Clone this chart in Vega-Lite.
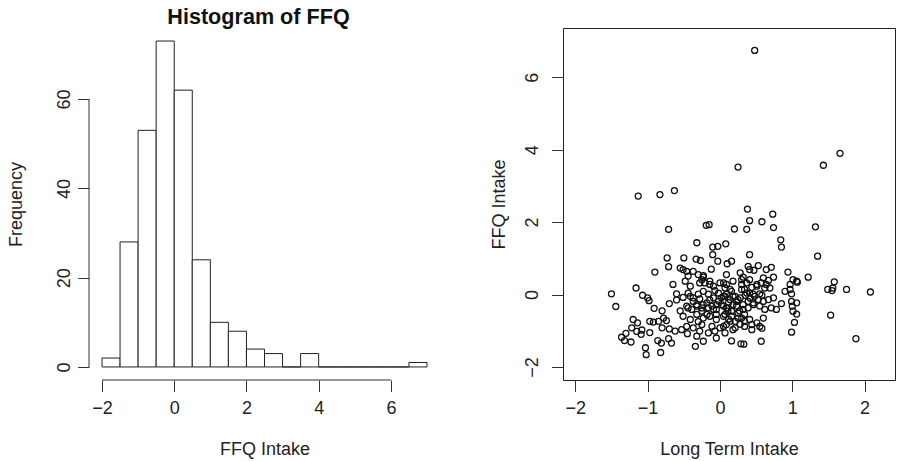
{
  "$schema": "https://vega.github.io/schema/vega-lite/v6.json",
  "background": "white",
  "padding": {"left": 7, "top": 7, "right": 5, "bottom": 5},
  "bounds": "flush",
  "spacing": 123,
  "config": {
    "font": "Liberation Sans",
    "view": {"stroke": null},
    "axis": {
      "grid": false, "domain": false, "tickColor": "#333", "tickSize": 11.5, "tickWidth": 1,
      "labelFontSize": 18, "titleFontSize": 18, "titleFontWeight": "normal",
      "labelColor": "#222", "titleColor": "#222", "labelFlush": false, "labelOverlap": false,
      "labelFont": "Liberation Sans", "titleFont": "Liberation Sans"
    },
    "axisX": {"labelPadding": 8, "titlePadding": 23},
    "axisY": {"labelAngle": -90, "labelAlign": "center", "labelBaseline": "bottom", "labelPadding": 4, "titlePadding": 30}
  },
  "datasets": {
    "hist": [
      {"bin_start": -2.0, "bin_end": -1.5, "count": 2},
      {"bin_start": -1.5, "bin_end": -1.0, "count": 28},
      {"bin_start": -1.0, "bin_end": -0.5, "count": 53},
      {"bin_start": -0.5, "bin_end": 0.0, "count": 73},
      {"bin_start": 0.0, "bin_end": 0.5, "count": 62},
      {"bin_start": 0.5, "bin_end": 1.0, "count": 24},
      {"bin_start": 1.0, "bin_end": 1.5, "count": 10},
      {"bin_start": 1.5, "bin_end": 2.0, "count": 8},
      {"bin_start": 2.0, "bin_end": 2.5, "count": 4},
      {"bin_start": 2.5, "bin_end": 3.0, "count": 3},
      {"bin_start": 3.0, "bin_end": 3.5, "count": 0},
      {"bin_start": 3.5, "bin_end": 4.0, "count": 3},
      {"bin_start": 4.0, "bin_end": 4.5, "count": 0},
      {"bin_start": 4.5, "bin_end": 5.0, "count": 0},
      {"bin_start": 5.0, "bin_end": 5.5, "count": 0},
      {"bin_start": 5.5, "bin_end": 6.0, "count": 0},
      {"bin_start": 6.0, "bin_end": 6.5, "count": 0},
      {"bin_start": 6.5, "bin_end": 7.0, "count": 1}
    ],
    "pts": [
      {"long_term": 0.48, "ffq": 6.74},
      {"long_term": 0.25, "ffq": 3.52}, {"long_term": 1.43, "ffq": 3.57}, {"long_term": 1.66, "ffq": 3.90},
      {"long_term": -1.13, "ffq": 2.72}, {"long_term": -0.83, "ffq": 2.76}, {"long_term": -0.63, "ffq": 2.87},
      {"long_term": 0.38, "ffq": 2.36}, {"long_term": 0.73, "ffq": 2.22}, {"long_term": 0.41, "ffq": 2.04}, {"long_term": 0.58, "ffq": 2.01},
      {"long_term": -0.71, "ffq": 1.80}, {"long_term": -0.19, "ffq": 1.91}, {"long_term": -0.15, "ffq": 1.93}, {"long_term": 0.20, "ffq": 1.81},
      {"long_term": 0.37, "ffq": 1.80}, {"long_term": 0.74, "ffq": 1.85}, {"long_term": 1.32, "ffq": 1.87}, {"long_term": 0.84, "ffq": 1.51},
      {"long_term": -0.32, "ffq": 1.43}, {"long_term": -0.10, "ffq": 1.31}, {"long_term": -0.03, "ffq": 1.33}, {"long_term": 0.08, "ffq": 1.40},
      {"long_term": -0.10, "ffq": 1.10}, {"long_term": 0.41, "ffq": 1.10}, {"long_term": 0.85, "ffq": 1.31}, {"long_term": 1.35, "ffq": 1.06},
      {"long_term": -0.73, "ffq": 1.01}, {"long_term": -0.50, "ffq": 1.01},
      {"long_term": -0.71, "ffq": 0.77}, {"long_term": -0.90, "ffq": 0.62}, {"long_term": -0.33, "ffq": 0.98}, {"long_term": -0.27, "ffq": 0.94},
      {"long_term": -0.03, "ffq": 0.92}, {"long_term": 0.10, "ffq": 0.85}, {"long_term": 0.16, "ffq": 0.92}, {"long_term": -0.55, "ffq": 0.73},
      {"long_term": -0.46, "ffq": 0.64}, {"long_term": -0.44, "ffq": 0.51}, {"long_term": -0.30, "ffq": 0.55}, {"long_term": 0.39, "ffq": 0.78},
      {"long_term": 0.47, "ffq": 0.67}, {"long_term": 0.71, "ffq": 0.75}, {"long_term": 0.94, "ffq": 0.62}, {"long_term": 0.53, "ffq": 0.80},
      {"long_term": 0.64, "ffq": 0.69}, {"long_term": -0.37, "ffq": 0.64}, {"long_term": -0.51, "ffq": 0.69}, {"long_term": 0.41, "ffq": 0.69},
      {"long_term": -0.23, "ffq": 0.52}, {"long_term": 0.09, "ffq": 0.55}, {"long_term": 0.28, "ffq": 0.60}, {"long_term": -0.12, "ffq": 0.70},
      {"long_term": -1.50, "ffq": 0.02}, {"long_term": -1.16, "ffq": 0.18}, {"long_term": -0.65, "ffq": 0.28}, {"long_term": -0.60, "ffq": 0.02},
      {"long_term": -0.48, "ffq": 0.37}, {"long_term": -0.23, "ffq": 0.48}, {"long_term": -0.21, "ffq": 0.32}, {"long_term": -0.28, "ffq": 0.32},
      {"long_term": -0.14, "ffq": 0.28}, {"long_term": -0.07, "ffq": 0.11}, {"long_term": 0.00, "ffq": 0.32}, {"long_term": 0.07, "ffq": 0.18},
      {"long_term": -0.02, "ffq": 0.04}, {"long_term": 0.09, "ffq": 0.01}, {"long_term": 0.32, "ffq": 0.48}, {"long_term": 0.41, "ffq": 0.41},
      {"long_term": 0.60, "ffq": 0.46}, {"long_term": 0.67, "ffq": 0.39}, {"long_term": 0.74, "ffq": 0.48}, {"long_term": 0.97, "ffq": 0.28},
      {"long_term": 1.06, "ffq": 0.37}, {"long_term": 0.30, "ffq": 0.28}, {"long_term": 0.34, "ffq": 0.14}, {"long_term": 0.44, "ffq": 0.20},
      {"long_term": 0.51, "ffq": 0.28}, {"long_term": 0.64, "ffq": 0.28}, {"long_term": 0.69, "ffq": 0.18}, {"long_term": 0.90, "ffq": 0.09},
      {"long_term": 0.97, "ffq": 0.14}, {"long_term": 0.05, "ffq": 0.32}, {"long_term": 0.16, "ffq": 0.09}, {"long_term": 0.41, "ffq": 0.04},
      {"long_term": 0.55, "ffq": 0.02}, {"long_term": 1.22, "ffq": 0.48}, {"long_term": 1.01, "ffq": 0.41}, {"long_term": 1.07, "ffq": 0.34},
      {"long_term": 1.58, "ffq": 0.35}, {"long_term": 1.49, "ffq": 0.14}, {"long_term": 1.55, "ffq": 0.11}, {"long_term": 1.56, "ffq": 0.18},
      {"long_term": 1.75, "ffq": 0.14}, {"long_term": 2.08, "ffq": 0.07}, {"long_term": 0.99, "ffq": 0.02}, {"long_term": -0.41, "ffq": 0.23},
      {"long_term": -0.25, "ffq": 0.41}, {"long_term": -0.14, "ffq": 0.37}, {"long_term": -0.09, "ffq": 0.23}, {"long_term": 0.09, "ffq": 0.28},
      {"long_term": 0.14, "ffq": 0.14}, {"long_term": 0.18, "ffq": 0.37}, {"long_term": 0.30, "ffq": 0.41}, {"long_term": 0.37, "ffq": 0.32},
      {"long_term": 0.51, "ffq": 0.23}, {"long_term": 0.57, "ffq": 0.32}, {"long_term": 0.62, "ffq": 0.18}, {"long_term": 0.30, "ffq": 0.14},
      {"long_term": 0.37, "ffq": 0.04}, {"long_term": 0.46, "ffq": 0.01}, {"long_term": -0.44, "ffq": 0.04}, {"long_term": -0.23, "ffq": 0.09},
      {"long_term": -0.16, "ffq": 0.01}, {"long_term": -0.30, "ffq": 0.01},
      {"long_term": -1.44, "ffq": -0.33}, {"long_term": -1.07, "ffq": -0.02}, {"long_term": -1.00, "ffq": -0.09}, {"long_term": -0.98, "ffq": -0.17},
      {"long_term": -0.91, "ffq": -0.38}, {"long_term": -0.51, "ffq": -0.08}, {"long_term": -0.41, "ffq": -0.05}, {"long_term": -0.37, "ffq": -0.19},
      {"long_term": -0.44, "ffq": -0.37}, {"long_term": 0.02, "ffq": -0.09}, {"long_term": -0.32, "ffq": -0.32}, {"long_term": -0.23, "ffq": -0.28},
      {"long_term": -0.16, "ffq": -0.37}, {"long_term": -0.25, "ffq": -0.46}, {"long_term": -0.09, "ffq": -0.41}, {"long_term": -0.05, "ffq": -0.28},
      {"long_term": 0.05, "ffq": -0.32}, {"long_term": 0.11, "ffq": -0.46}, {"long_term": 0.07, "ffq": -0.05}, {"long_term": 0.14, "ffq": -0.14},
      {"long_term": 0.21, "ffq": -0.05}, {"long_term": 0.11, "ffq": -0.37}, {"long_term": 0.18, "ffq": -0.28}, {"long_term": 0.23, "ffq": -0.19},
      {"long_term": 0.28, "ffq": -0.09}, {"long_term": 0.32, "ffq": -0.41}, {"long_term": 0.48, "ffq": -0.05}, {"long_term": 0.39, "ffq": -0.19},
      {"long_term": 0.46, "ffq": -0.28}, {"long_term": 0.53, "ffq": -0.14}, {"long_term": 0.60, "ffq": -0.19}, {"long_term": 0.67, "ffq": -0.14},
      {"long_term": 0.74, "ffq": -0.09}, {"long_term": 0.78, "ffq": -0.41}, {"long_term": 0.71, "ffq": -0.37}, {"long_term": 0.99, "ffq": -0.19},
      {"long_term": 1.06, "ffq": -0.23}, {"long_term": 1.01, "ffq": -0.46}, {"long_term": 1.00, "ffq": -0.32}, {"long_term": -0.37, "ffq": -0.09},
      {"long_term": -0.09, "ffq": -0.09}, {"long_term": 0.05, "ffq": -0.05}, {"long_term": 0.18, "ffq": -0.05}, {"long_term": 0.25, "ffq": -0.14},
      {"long_term": -0.46, "ffq": -0.32}, {"long_term": -0.39, "ffq": -0.41}, {"long_term": -0.32, "ffq": -0.28}, {"long_term": -0.25, "ffq": -0.37},
      {"long_term": -0.18, "ffq": -0.23}, {"long_term": -0.11, "ffq": -0.32}, {"long_term": -0.05, "ffq": -0.41}, {"long_term": 0.02, "ffq": -0.28},
      {"long_term": 0.09, "ffq": -0.37}, {"long_term": 0.16, "ffq": -0.46}, {"long_term": 0.23, "ffq": -0.32}, {"long_term": 0.32, "ffq": -0.28},
      {"long_term": 0.39, "ffq": -0.37}, {"long_term": 0.46, "ffq": -0.23}, {"long_term": 0.55, "ffq": -0.32}, {"long_term": 0.62, "ffq": -0.41},
      {"long_term": -0.60, "ffq": -0.15}, {"long_term": -0.70, "ffq": -0.25}, {"long_term": -0.55, "ffq": -0.45}, {"long_term": -0.28, "ffq": -0.12},
      {"long_term": -0.14, "ffq": -0.15}, {"long_term": -0.02, "ffq": -0.18}, {"long_term": 0.12, "ffq": -0.22}, {"long_term": 0.35, "ffq": -0.02},
      {"long_term": 0.42, "ffq": -0.10}, {"long_term": 0.58, "ffq": -0.02}, {"long_term": 0.85, "ffq": -0.25}, {"long_term": -0.80, "ffq": -0.45},
      {"long_term": 0.27, "ffq": -0.45},
      {"long_term": -1.20, "ffq": -0.69}, {"long_term": -1.14, "ffq": -0.78}, {"long_term": -1.22, "ffq": -0.92}, {"long_term": -1.08, "ffq": -0.98},
      {"long_term": -0.97, "ffq": -0.74}, {"long_term": -0.92, "ffq": -0.76}, {"long_term": -0.85, "ffq": -0.74}, {"long_term": -0.78, "ffq": -0.65},
      {"long_term": -0.74, "ffq": -0.72}, {"long_term": -0.80, "ffq": -0.92}, {"long_term": -0.53, "ffq": -0.97}, {"long_term": -0.37, "ffq": -0.92},
      {"long_term": 0.00, "ffq": -0.92}, {"long_term": -0.18, "ffq": -0.55}, {"long_term": 0.07, "ffq": -0.55}, {"long_term": 0.16, "ffq": -0.60},
      {"long_term": 0.25, "ffq": -0.51}, {"long_term": 0.30, "ffq": -0.65}, {"long_term": 0.21, "ffq": -0.74}, {"long_term": 0.05, "ffq": -0.88},
      {"long_term": 0.18, "ffq": -0.97}, {"long_term": 0.34, "ffq": -0.74}, {"long_term": 0.44, "ffq": -0.83}, {"long_term": 0.51, "ffq": -0.78},
      {"long_term": 0.55, "ffq": -0.88}, {"long_term": 1.06, "ffq": -0.54}, {"long_term": 1.03, "ffq": -0.77}, {"long_term": 1.53, "ffq": -0.57},
      {"long_term": -0.51, "ffq": -0.60}, {"long_term": -0.41, "ffq": -0.69}, {"long_term": -0.32, "ffq": -0.55}, {"long_term": -0.23, "ffq": -0.65},
      {"long_term": -0.14, "ffq": -0.60}, {"long_term": -0.05, "ffq": -0.69}, {"long_term": 0.05, "ffq": -0.60}, {"long_term": 0.14, "ffq": -0.74},
      {"long_term": 0.25, "ffq": -0.65}, {"long_term": 0.34, "ffq": -0.55}, {"long_term": 0.41, "ffq": -0.69}, {"long_term": 0.60, "ffq": -0.65},
      {"long_term": -0.46, "ffq": -0.88}, {"long_term": -0.25, "ffq": -0.83}, {"long_term": -0.11, "ffq": -0.88}, {"long_term": 0.09, "ffq": -0.83},
      {"long_term": 0.21, "ffq": -0.92}, {"long_term": 0.34, "ffq": -0.88}, {"long_term": 0.44, "ffq": -0.97},
      {"long_term": 0.58, "ffq": -0.93}, {"long_term": 0.12, "ffq": -0.68}, {"long_term": -0.30, "ffq": -0.75}, {"long_term": -0.70, "ffq": -0.95},
      {"long_term": -0.05, "ffq": -0.55}, {"long_term": 0.28, "ffq": -0.82},
      {"long_term": -1.09, "ffq": -1.10}, {"long_term": -0.97, "ffq": -1.05}, {"long_term": -1.30, "ffq": -1.07}, {"long_term": -1.36, "ffq": -1.18},
      {"long_term": -1.32, "ffq": -1.27}, {"long_term": -1.23, "ffq": -1.31}, {"long_term": -1.03, "ffq": -1.47}, {"long_term": -0.86, "ffq": -1.27},
      {"long_term": -0.81, "ffq": -1.34}, {"long_term": -0.71, "ffq": -1.22}, {"long_term": -0.67, "ffq": -1.34}, {"long_term": -0.34, "ffq": -1.43},
      {"long_term": -0.23, "ffq": -1.29}, {"long_term": -0.62, "ffq": -1.01}, {"long_term": -0.28, "ffq": -1.01}, {"long_term": -0.32, "ffq": -1.15},
      {"long_term": -0.16, "ffq": -1.06}, {"long_term": -0.07, "ffq": -1.01}, {"long_term": 0.07, "ffq": -1.06}, {"long_term": 0.99, "ffq": -1.04},
      {"long_term": 0.16, "ffq": -1.28}, {"long_term": 0.29, "ffq": -1.36}, {"long_term": 0.33, "ffq": -1.37}, {"long_term": 0.57, "ffq": -1.29},
      {"long_term": 1.88, "ffq": -1.22}, {"long_term": -1.15, "ffq": -1.02}, {"long_term": -0.45, "ffq": -1.08}, {"long_term": -0.05, "ffq": -1.20},
      {"long_term": -1.02, "ffq": -1.66}, {"long_term": -0.82, "ffq": -1.60}
    ]
  },
  "hconcat": [
    {
      "width": 351,
      "height": 352,
      "title": {"text": "Histogram of FFQ", "fontSize": 21.6, "fontWeight": "bold", "color": "#111", "font": "Liberation Sans", "baseline": "alphabetic", "offset": -18, "dx": -6},
      "layer": [
        {
          "data": {"name": "hist"},
          "mark": {"type": "rect", "fill": "white", "stroke": "#222", "strokeWidth": 1},
          "encoding": {
            "x": {"field": "bin_start", "type": "quantitative", "scale": {"domain": [-2.36, 7.36], "nice": false, "zero": false}, "axis": {"values": [-2, 0, 2, 4, 6], "title": "FFQ Intake"}},
            "x2": {"field": "bin_end"},
            "y": {"field": "count", "type": "quantitative", "scale": {"domain": [-2.92, 75.92], "nice": false, "zero": false}, "axis": {"values": [0, 20, 40, 60], "title": "Frequency"}},
            "y2": {"datum": 0}
          }
        },
        {
          "data": {"values": [{}]},
          "mark": {"type": "rule", "color": "#333", "strokeWidth": 1},
          "encoding": {"x": {"datum": -2}, "x2": {"datum": 6}, "y": {"datum": -2.92}}
        },
        {
          "data": {"values": [{}]},
          "mark": {"type": "rule", "color": "#333", "strokeWidth": 1},
          "encoding": {"x": {"datum": -2.36}, "y": {"datum": 0}, "y2": {"datum": 60}}
        }
      ]
    },
    {
      "width": 332,
      "height": 352,
      "view": {"stroke": "#222", "strokeWidth": 1},
      "data": {"name": "pts"},
      "mark": {"type": "point", "shape": "circle", "filled": false, "size": 36, "stroke": "#111", "strokeWidth": 1.3, "opacity": 1},
      "encoding": {
        "x": {"field": "long_term", "type": "quantitative", "scale": {"domain": [-2.17, 2.42], "nice": false, "zero": false}, "axis": {"values": [-2, -1, 0, 1, 2], "title": "Long Term Intake"}},
        "y": {"field": "ffq", "type": "quantitative", "scale": {"domain": [-2.36, 7.36], "nice": false, "zero": false}, "axis": {"values": [-2, 0, 2, 4, 6], "title": "FFQ Intake", "labelPadding": 10.5, "titlePadding": 14.5}}
      }
    }
  ]
}
